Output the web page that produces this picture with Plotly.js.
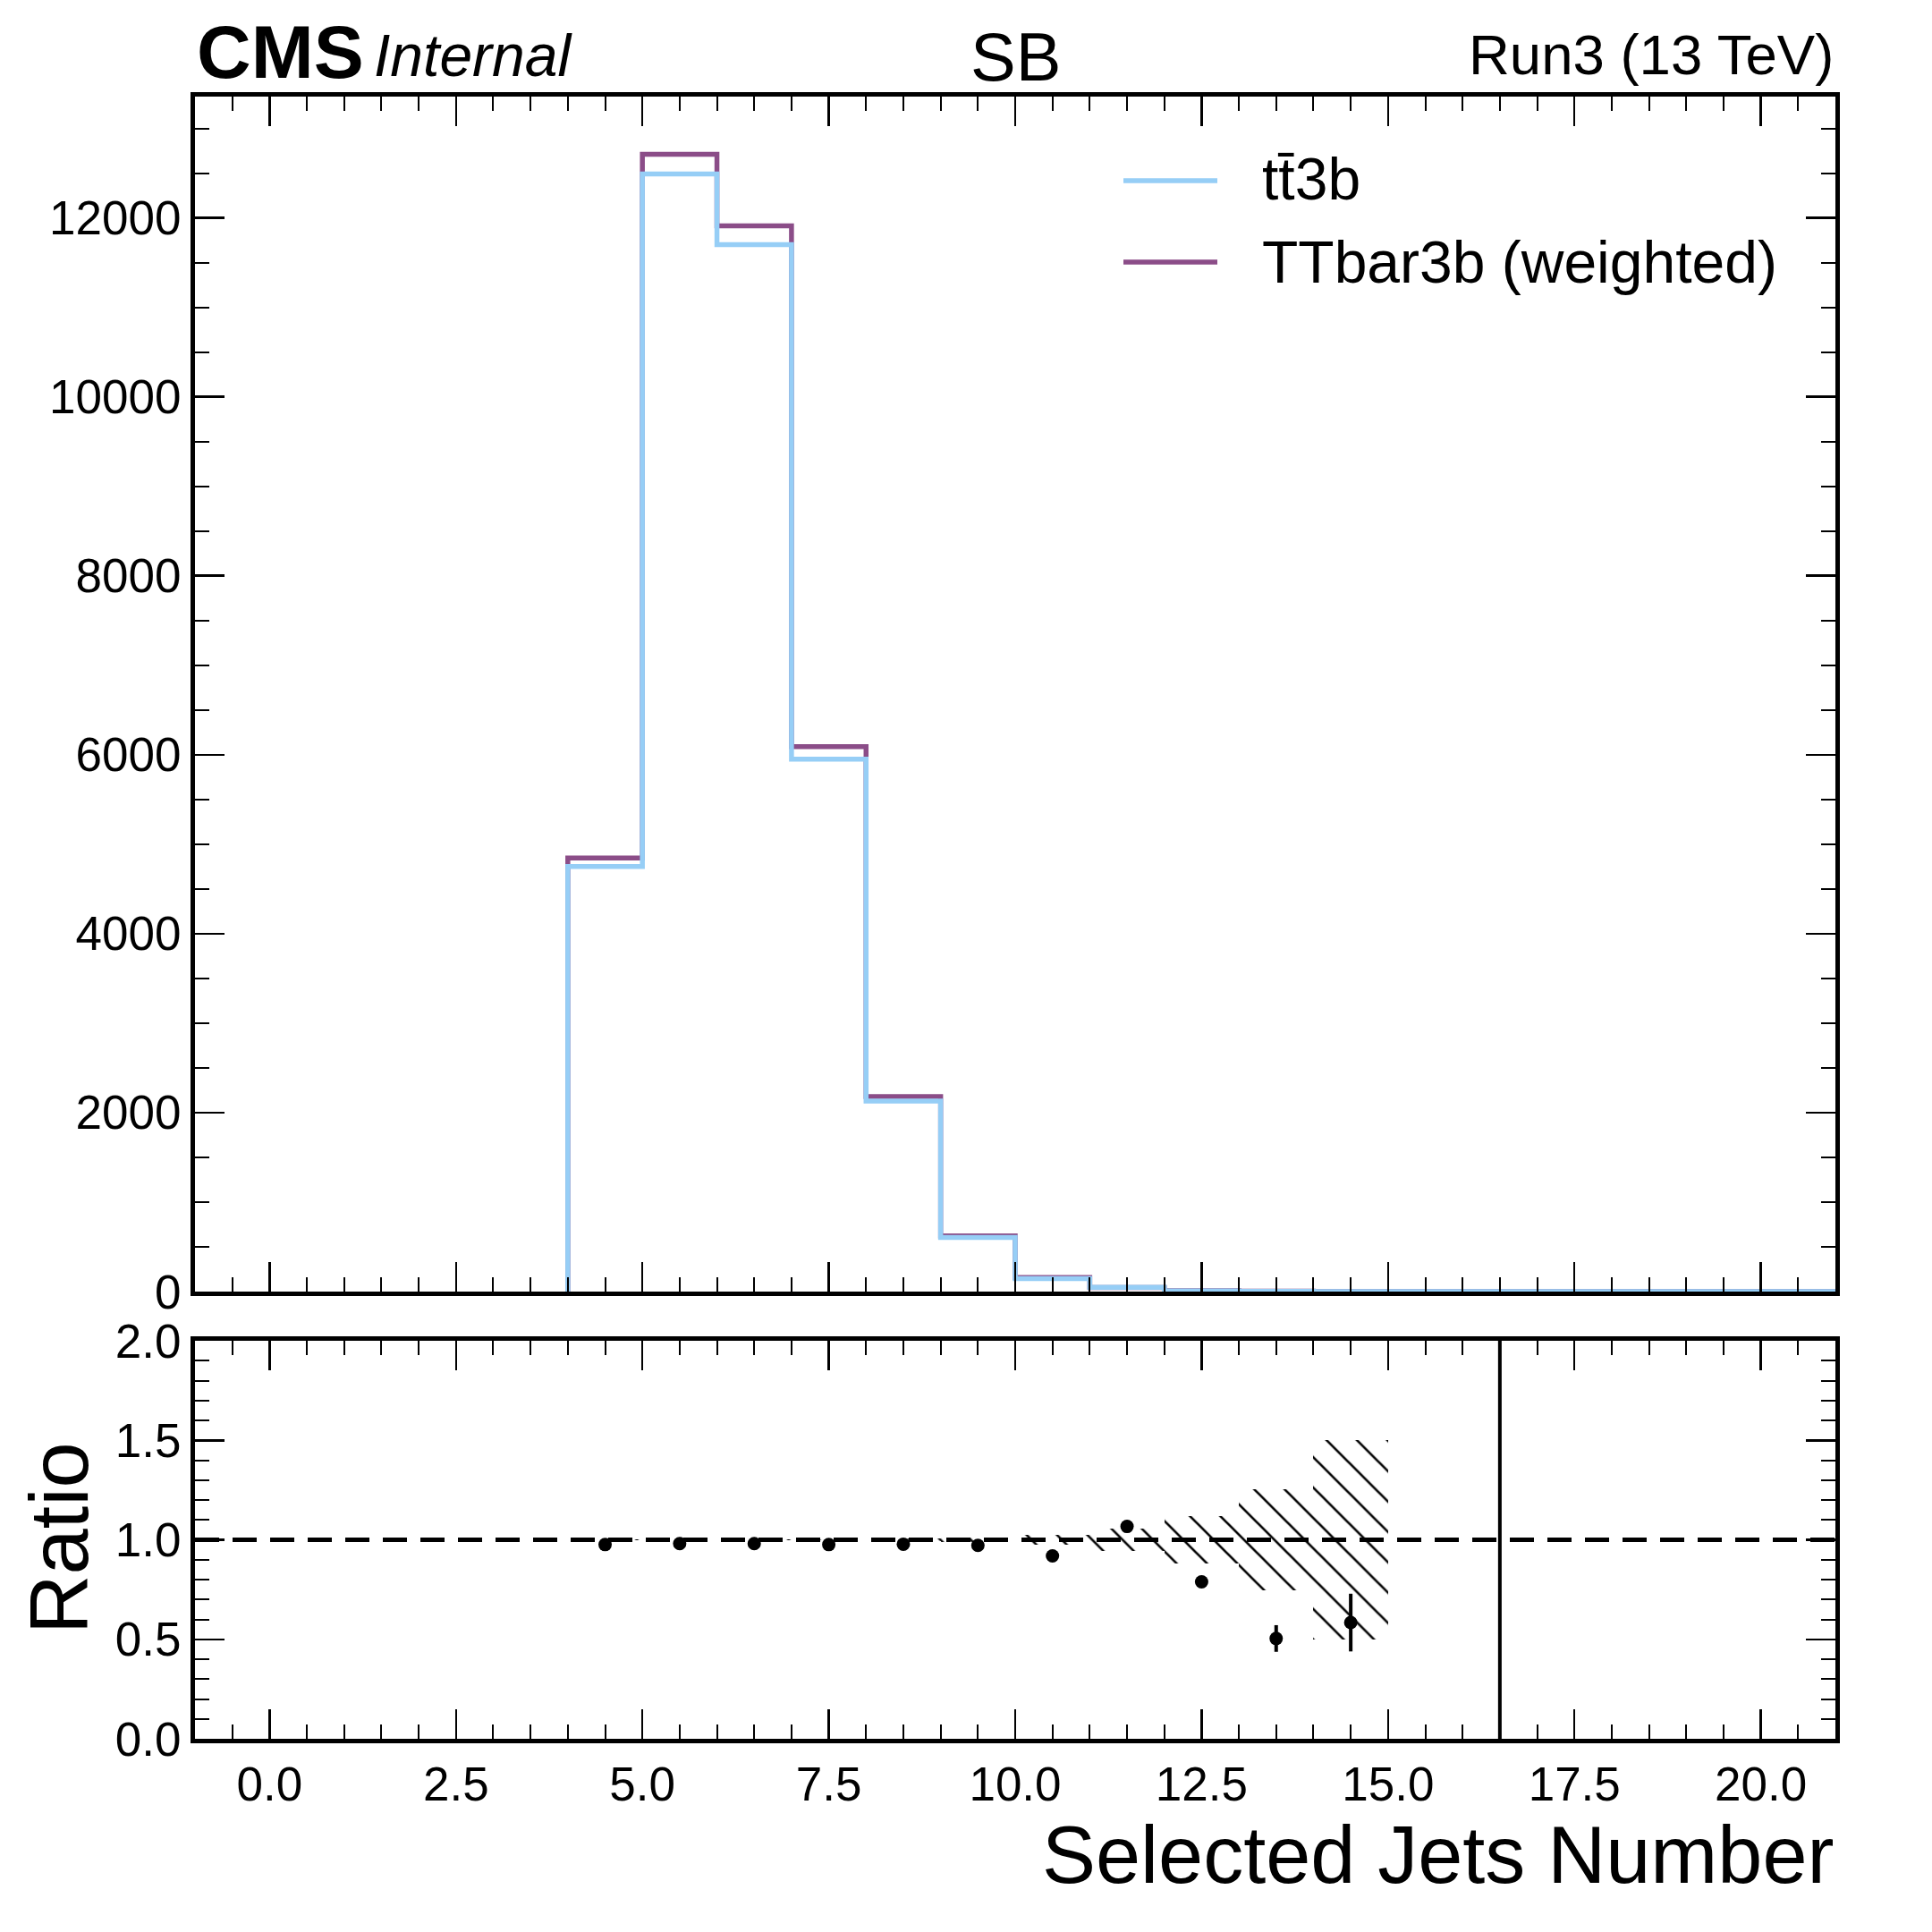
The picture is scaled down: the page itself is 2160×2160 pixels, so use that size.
<!DOCTYPE html>
<html>
<head>
<meta charset="utf-8">
<script src="https://cdn.plot.ly/plotly-3.0.1.min.js"></script>
<style>html,body{margin:0;padding:0;background:#fff;} #chart{width:2160px;height:2160px;}</style>
</head>
<body>
<div id="chart"></div>
<script>
// ---- data ----
// bins with entries start at 4 (lower edges), each bin 1 wide
const binEdges = [4,5,6,7,8,9,10,11,12,13,14,15,16,17,18,19,20,21];
const tt3bCounts = [4750,12490,11700,5950,2130,605,145,48,8,2,0.7,0,0,0,0,0,0];
const ttbar3bWeighted = [4845,12710,11910,6090,2180,622,158,45,10,4,1.2,0,0,0,0,0,0];
const ratioX = [4.5,5.5,6.5,7.5,8.5,9.5,10.5,11.5,12.5,13.5,14.5,16.5];
const ratioY = [0.976,0.981,0.981,0.976,0.978,0.972,0.919,1.067,0.789,0.504,0.584,3.0];
const ratioErr = [0.004,0.003,0.003,0.004,0.006,0.012,0.02,0.01,0.012,0.067,0.145,3.0];
const bandX = [4.5,5.5,6.5,7.5,8.5,9.5,10.5,11.5,12.5,13.5,14.5];
const bandErr = [0.003,0.002,0.002,0.003,0.005,0.01,0.025,0.056,0.12,0.255,0.5];
const legendNames = ['tt\u03043b', 'TTbar3b (weighted)'];

const colBlue = '#96CEF6';
const colPurple = '#8B4D88';
const FONT = 'Liberation Sans, Arial, Helvetica, sans-serif';

// step outline: rise from 0 at the first edge, then one level per bin
function stepX(e){ return [e[0]].concat(e); }
function stepY(c){ return [0].concat(c, [c[c.length-1]]); }

const traces = [
  {x: stepX(binEdges), y: stepY(ttbar3bWeighted), type:'scatter', mode:'lines', line:{shape:'hv', color:colPurple, width:5.5}, xaxis:'x', yaxis:'y', name:legendNames[1], showlegend:false},
  {x: stepX(binEdges), y: stepY(tt3bCounts), type:'scatter', mode:'lines', line:{shape:'hv', color:colBlue, width:5.5}, xaxis:'x', yaxis:'y', name:legendNames[0], showlegend:false},
  {x: bandX, y: bandErr.map(e=>2*e), base: bandErr.map(e=>1-e), width: bandX.map(()=>1), type:'bar', xaxis:'x2', yaxis:'y2',
   marker:{color:'rgba(0,0,0,0)', line:{width:0}, pattern:{shape:'\\', fgcolor:'#000', fgopacity:1, bgcolor:'rgba(0,0,0,0)', size:24, solidity:0.11, fillmode:'overlay'}}, showlegend:false, hoverinfo:'skip'},
  {x: ratioX, y: ratioY, type:'scatter', mode:'markers', xaxis:'x2', yaxis:'y2', marker:{color:'#000', size:15},
   error_y:{type:'data', array: ratioErr, visible:true, color:'#000', thickness:4, width:0}, showlegend:false, cliponaxis:true}
];

const TOP = 108, BOT = 1944, LEFT = 218, RIGHT = 2052;
const H = BOT - TOP, W = RIGHT - LEFT;
function py(p){ return (BOT - p) / H; }
function px(p){ return (p - LEFT) / W; }

const tickFont = {family: FONT, size: 53, color:'#000'};
const axisCommon = {showline:true, linecolor:'#000', linewidth:5, mirror:'allticks', ticks:'inside', ticklen:33, tickwidth:2.5, tickcolor:'#000', showgrid:false, zeroline:false, tickfont: tickFont};

const layout = {
  width:2160, height:2160,
  margin:{l:LEFT, r:2160-RIGHT, t:TOP, b:2160-BOT, pad:0},
  paper_bgcolor:'#fff', plot_bgcolor:'#fff',
  font:{family:FONT, color:'#000'},
  showlegend:false,
  xaxis: Object.assign({}, axisCommon, {domain:[0,1], range:[-1,21], anchor:'y', matches:'x2', showticklabels:false, dtick:2.5, tick0:0,
          minor:{dtick:0.5, ticks:'inside', ticklen:16, tickwidth:2, tickcolor:'#000'}}),
  yaxis: Object.assign({}, axisCommon, {domain:[py(1444),1], range:[0,13355], anchor:'x', dtick:2000, tick0:0, tickformat:'d',
          minor:{dtick:500, ticks:'inside', ticklen:16, tickwidth:2, tickcolor:'#000'}}),
  xaxis2: Object.assign({}, axisCommon, {domain:[0,1], range:[-1,21], anchor:'y2', dtick:2.5, tick0:0, tickformat:'.1f',
          minor:{dtick:0.5, ticks:'inside', ticklen:16, tickwidth:2, tickcolor:'#000'}}),
  yaxis2: Object.assign({}, axisCommon, {domain:[0,py(1499)], range:[0,2], anchor:'x2', dtick:0.5, tick0:0, tickformat:'.1f',
          minor:{dtick:0.1, ticks:'inside', ticklen:16, tickwidth:2, tickcolor:'#000'}}),
  bargap:0,
  shapes:[
    {type:'line', xref:'paper', yref:'y2', x0:0, x1:1, y0:1, y1:1, line:{color:'#000', width:5, dash:'27px,15px'}},
    {type:'line', xref:'paper', yref:'paper', x0:px(1256), x1:px(1361), y0:py(202), y1:py(202), line:{color:colBlue, width:5.5}},
    {type:'line', xref:'paper', yref:'paper', x0:px(1256), x1:px(1361), y0:py(293), y1:py(293), line:{color:colPurple, width:5.5}}
  ],
  annotations:[
    {text:'<b>CMS</b>', xref:'paper', yref:'paper', x:0, y:py(58), xanchor:'left', yanchor:'middle', showarrow:false, font:{family:FONT, size:84, color:'#000'}},
    {text:'<i>Internal</i>', xref:'paper', yref:'paper', x:px(416), y:py(62), xanchor:'left', yanchor:'middle', showarrow:false, font:{family:FONT, size:66, color:'#000'}},
    {text:'SB', xref:'paper', yref:'paper', x:0.5, y:py(63), xanchor:'center', yanchor:'middle', showarrow:false, font:{family:FONT, size:76, color:'#000'}},
    {text:'Run3 (13 TeV)', xref:'paper', yref:'paper', x:1, y:py(61), xanchor:'right', yanchor:'middle', showarrow:false, font:{family:FONT, size:63.5, color:'#000'}},
    {text:legendNames[0], xref:'paper', yref:'paper', x:px(1409), y:py(200), xanchor:'left', yanchor:'middle', showarrow:false, font:{family:FONT, size:66, color:'#000'}},
    {text:legendNames[1], xref:'paper', yref:'paper', x:px(1409), y:py(293), xanchor:'left', yanchor:'middle', showarrow:false, font:{family:FONT, size:66, color:'#000'}},
    {text:'Ratio', xref:'paper', yref:'paper', x:px(66), y:py(1720), xanchor:'center', yanchor:'middle', textangle:-90, showarrow:false, font:{family:FONT, size:92, color:'#000'}},
    {text:'Selected Jets Number', xref:'paper', yref:'paper', x:1, y:py(2074), xanchor:'right', yanchor:'middle', showarrow:false, font:{family:FONT, size:90, color:'#000'}}
  ]
};

Plotly.newPlot('chart', traces, layout, {staticPlot:true, displayModeBar:false});
</script>
</body>
</html>
